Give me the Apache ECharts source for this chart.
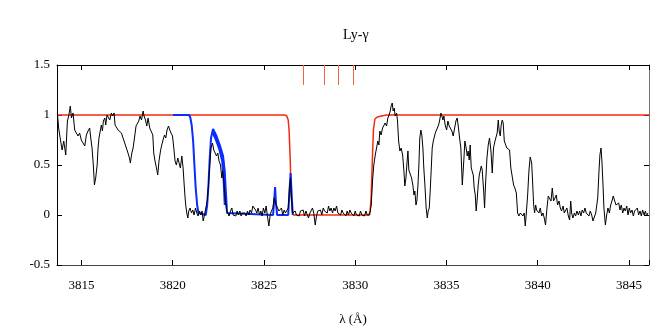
<!DOCTYPE html>
<html>
<head>
<meta charset="utf-8">
<script src="https://cdn.jsdelivr.net/npm/echarts@6/dist/echarts.min.js"></script>
<style>
html, body { margin: 0; padding: 0; background: #fff; }
#chart { width: 664px; height: 332px; }
</style>
</head>
<body>
<div id="chart"></div>
<script>
// wavelength range of the plot (Angstrom)
const lambdaMin = 3813.66;
const lambdaMax = 3846.1;

// observed spectrum, [wavelength, normalised flux]
const flux = [
  [3813.68,1.02],[3813.75,0.87],[3813.86,0.74],[3813.94,0.65],[3814.03,0.74],[3814.14,0.60],[3814.23,0.94],[3814.30,0.99],
  [3814.39,1.09],[3814.45,0.97],[3814.54,1.02],[3814.63,0.85],[3814.72,0.87],[3814.81,0.79],[3814.90,0.82],[3814.99,0.75],
  [3815.09,0.77],[3815.18,0.69],[3815.27,0.80],[3815.36,0.84],[3815.45,0.87],[3815.51,0.77],[3815.58,0.67],[3815.65,0.50],
  [3815.71,0.30],[3815.78,0.37],[3815.86,0.50],[3815.91,0.67],[3815.96,0.77],[3816.04,0.85],[3816.09,0.90],[3816.15,0.84],
  [3816.20,0.94],[3816.28,0.97],[3816.33,0.90],[3816.40,1.00],[3816.49,0.99],[3816.55,0.95],[3816.64,1.02],[3816.71,0.99],
  [3816.79,1.02],[3816.84,0.90],[3816.92,0.89],[3817.01,0.85],[3817.10,0.84],[3817.19,0.82],[3817.28,0.77],[3817.37,0.72],
  [3817.46,0.74],[3817.55,0.62],[3817.63,0.57],[3817.68,0.52],[3817.76,0.62],[3817.83,0.67],[3817.92,0.79],[3817.99,0.89],
  [3818.07,0.87],[3818.14,0.94],[3818.21,0.99],[3818.29,0.95],[3818.38,1.04],[3818.43,0.99],[3818.51,0.95],[3818.58,0.89],
  [3818.65,0.97],[3818.74,0.87],[3818.83,0.89],[3818.91,0.80],[3818.96,0.62],
  [3819.02,0.55],[3819.11,0.47],[3819.18,0.40],[3819.25,0.54],[3819.33,0.64],[3819.40,0.70],[3819.47,0.75],[3819.55,0.80],
  [3819.62,0.77],[3819.69,0.85],[3819.77,0.89],[3819.84,0.85],[3819.91,0.82],[3819.99,0.79],[3820.06,0.67],[3820.13,0.54],
  [3820.20,0.50],[3820.28,0.57],[3820.35,0.52],[3820.42,0.47],[3820.50,0.59],[3820.57,0.47],[3820.63,0.30],[3820.68,0.17],
  [3820.72,0.09],[3820.77,0.02],[3820.83,-0.03],[3820.88,0.04],[3820.95,0.07],[3821.03,0.02],[3821.10,0.05],[3821.17,0.00],
  [3821.25,0.07],[3821.32,0.02],[3821.39,-0.01],[3821.47,0.04],[3821.54,0.00],[3821.61,0.04],[3821.67,-0.06],[3821.74,0.00],
  [3821.81,0.02],[3821.89,0.14],[3821.96,0.30],[3822.03,0.50],[3822.10,0.67],[3822.18,0.72],[3822.25,0.65],[3822.32,0.64],
  [3822.40,0.59],[3822.47,0.62],[3822.54,0.54],[3822.62,0.50],[3822.69,0.37],[3822.74,0.44],[3822.80,0.34],[3822.87,0.17],
  [3822.95,0.05],[3823.02,0.04],[3823.09,-0.01],[3823.17,0.04],[3823.24,0.07],[3823.31,0.00],[3823.38,0.02],[3823.46,-0.01],
  [3823.53,0.04],[3823.60,0.00],[3823.68,0.04],[3823.75,-0.01],[3823.82,0.02],[3823.90,0.02],
  [3823.95,0.02],[3824.02,-0.01],[3824.10,0.04],[3824.17,0.00],[3824.24,0.05],[3824.32,0.02],[3824.39,0.09],[3824.46,0.10],
  [3824.54,0.05],[3824.61,0.02],[3824.68,0.07],[3824.76,0.00],[3824.83,0.04],[3824.90,-0.01],[3824.97,0.07],[3825.05,0.02],
  [3825.12,0.09],[3825.19,-0.01],[3825.27,-0.11],[3825.34,0.00],[3825.41,0.04],[3825.49,0.07],[3825.56,0.17],[3825.61,0.15],
  [3825.67,0.10],[3825.74,0.09],[3825.82,0.04],[3825.89,0.02],[3825.96,0.07],[3826.03,0.00],[3826.11,0.05],[3826.18,0.02],
  [3826.25,0.00],[3826.33,0.07],[3826.40,0.27],[3826.46,0.37],[3826.51,0.17],[3826.57,0.02],[3826.64,0.00],[3826.71,0.04],
  [3826.78,0.00],[3826.86,0.02],[3826.93,-0.01],[3827.00,0.04],[3827.08,0.02],[3827.15,0.05],[3827.22,-0.01],[3827.30,0.04],
  [3827.37,0.02],[3827.44,-0.03],[3827.52,0.02],[3827.59,0.00],[3827.66,0.07],[3827.73,0.02],[3827.81,-0.10],[3827.88,-0.01],
  [3827.95,0.04],[3828.03,0.02],[3828.10,0.05],[3828.17,0.00],[3828.25,0.07],[3828.32,0.04],[3828.39,0.05],[3828.47,0.02],
  [3828.54,0.09],[3828.61,0.04],[3828.68,0.07],[3828.76,0.02],[3828.83,0.07],[3828.90,0.04],[3828.98,0.09],[3829.05,0.02],
  [3829.12,0.04],[3829.20,0.00],[3829.27,0.05],[3829.34,0.02],[3829.42,0.04],[3829.49,-0.01],[3829.56,0.04],[3829.63,0.00],
  [3829.71,0.05],[3829.78,0.02],[3829.85,0.04],[3829.93,-0.01],[3830.00,0.04],[3830.07,0.00],[3830.15,0.02],[3830.22,-0.01],
  [3830.29,0.04],[3830.37,0.00],[3830.44,0.02],[3830.51,-0.01],[3830.59,0.04],[3830.66,0.00],[3830.73,0.02],
  [3830.79,0.00],[3830.88,0.10],[3830.95,0.34],[3831.02,0.50],[3831.10,0.60],[3831.17,0.67],[3831.24,0.74],[3831.30,0.70],
  [3831.35,0.84],[3831.42,0.80],[3831.50,0.87],[3831.57,0.85],[3831.64,0.92],[3831.72,0.89],[3831.79,0.97],[3831.86,1.00],
  [3831.92,1.04],[3831.97,1.09],[3832.03,1.12],[3832.08,1.04],[3832.14,1.07],[3832.19,0.99],[3832.27,1.02],[3832.32,0.94],
  [3832.38,0.74],[3832.45,0.64],[3832.52,0.67],[3832.60,0.60],[3832.67,0.44],[3832.72,0.29],[3832.78,0.37],[3832.83,0.50],
  [3832.89,0.64],[3832.94,0.45],[3833.01,0.47],[3833.09,0.37],[3833.16,0.30],[3833.22,0.20],[3833.27,0.24],[3833.33,0.10],
  [3833.38,0.14],[3833.44,0.30],[3833.49,0.50],[3833.54,0.77],[3833.60,0.85],[3833.65,0.80],[3833.71,0.67],[3833.76,0.47],
  [3833.82,0.30],[3833.89,0.07],[3833.95,-0.03],[3834.00,0.04],[3834.06,0.07],[3834.11,0.24],[3834.17,0.47],[3834.22,0.67],
  [3834.28,0.74],[3834.33,0.75],[3834.39,0.82],[3834.46,0.80],[3834.49,0.84],[3834.57,0.90],[3834.62,0.94],[3834.70,1.02],
  [3834.75,0.99],[3834.81,0.95],[3834.86,0.99],[3834.93,0.90],[3835.01,0.85],[3835.08,0.94],[3835.15,0.89],[3835.23,0.90],
  [3835.30,0.84],[3835.37,0.79],[3835.45,0.87],[3835.52,0.94],[3835.59,0.97],[3835.66,0.87],[3835.72,0.77],[3835.79,0.67],
  [3835.87,0.30],
  [3835.96,0.57],[3836.01,0.74],[3836.08,0.67],[3836.14,0.59],[3836.19,0.64],[3836.25,0.55],[3836.30,0.70],[3836.36,0.47],
  [3836.41,0.49],[3836.47,0.40],[3836.52,0.27],[3836.58,0.20],[3836.63,0.04],[3836.69,0.17],[3836.74,0.30],[3836.80,0.40],
  [3836.85,0.39],[3836.91,0.49],[3836.96,0.45],[3837.04,0.24],[3837.09,0.07],[3837.14,0.30],[3837.22,0.57],[3837.29,0.70],
  [3837.36,0.77],[3837.44,0.64],[3837.51,0.42],[3837.58,0.67],[3837.66,0.74],[3837.73,0.75],[3837.78,0.82],[3837.84,0.95],
  [3837.89,0.84],[3837.95,0.79],[3838.00,0.90],[3838.06,0.95],[3838.11,0.92],[3838.17,0.74],[3838.24,0.75],[3838.31,0.67],
  [3838.39,0.65],[3838.46,0.65],[3838.53,0.47],[3838.61,0.45],[3838.68,0.30],[3838.75,0.27],[3838.83,0.22],[3838.90,0.02],
  [3838.97,-0.01],[3839.05,0.02],[3839.12,0.04],[3839.19,-0.01],[3839.26,0.02],[3839.32,-0.11],[3839.37,0.00],[3839.45,0.20],
  [3839.52,0.44],[3839.59,0.58],[3839.67,0.52],[3839.72,0.34],[3839.78,0.10],[3839.83,0.02],[3839.89,0.10],[3839.94,0.05],
  [3839.99,0.07],[3840.07,0.02],[3840.14,0.07],[3840.22,-0.01],[3840.29,0.02],[3840.36,-0.03],[3840.43,-0.10],[3840.51,0.07],
  [3840.58,0.19],[3840.65,0.20],[3840.73,0.14],[3840.80,0.27],[3840.87,0.14],
  [3840.95,0.17],[3841.02,0.20],[3841.09,0.10],[3841.17,0.14],[3841.24,0.07],[3841.31,0.04],[3841.39,0.09],[3841.46,0.02],
  [3841.53,0.00],[3841.60,0.07],[3841.68,-0.01],[3841.75,-0.05],[3841.81,0.14],[3841.86,0.02],[3841.93,-0.03],[3842.01,0.02],
  [3842.08,-0.01],[3842.15,0.04],[3842.23,0.00],[3842.30,0.04],[3842.37,-0.01],[3842.44,0.05],[3842.52,0.02],[3842.59,0.07],
  [3842.66,0.02],[3842.74,0.04],[3842.81,-0.01],[3842.88,0.04],[3842.96,0.00],[3843.03,-0.06],[3843.10,-0.08],[3843.18,0.02],
  [3843.23,0.00],[3843.29,0.17],[3843.36,0.44],[3843.41,0.60],[3843.47,0.67],[3843.52,0.54],[3843.58,0.30],[3843.63,0.07],
  [3843.71,-0.10],[3843.78,0.00],[3843.85,0.07],[3843.93,0.02],[3844.00,0.10],[3844.07,0.14],[3844.14,0.19],[3844.22,0.17],
  [3844.29,0.10],[3844.36,0.09],[3844.44,0.12],[3844.51,0.05],[3844.58,0.10],[3844.66,0.02],[3844.73,0.07],[3844.80,0.04],
  [3844.88,0.09],[3844.95,0.00],[3845.02,0.07],[3845.09,0.02],[3845.17,0.05],[3845.24,-0.01],[3845.31,0.04],[3845.39,0.02],
  [3845.46,0.07],[3845.53,0.00],[3845.61,0.04],[3845.68,-0.01],[3845.75,0.05],[3845.83,0.00],[3845.90,0.04],[3845.97,-0.01],
  [3846.04,0.02]
];

// Ly-gamma model (red)
const redModel = [
  [3813.66,1],[3826.14,1],[3826.25,0.99],[3826.33,0.95],[3826.38,0.84],[3826.44,0.55],[3826.49,0.22],[3826.55,0.04],
  [3826.62,0],[3830.75,0],[3830.82,0.04],[3830.88,0.2],[3830.94,0.55],[3831.00,0.85],[3831.08,0.96],[3831.21,0.98],
  [3831.44,0.99],[3831.72,1],[3846.1,1]
];

// second model (blue)
const blueModel = [
  [3820.02,1],[3820.9,1],[3820.97,0.97],[3821.04,0.90],[3821.12,0.74],[3821.19,0.50],[3821.26,0.27],[3821.34,0.10],
  [3821.41,0.02],[3821.48,0],[3821.81,0],[3821.89,0.10],[3821.96,0.30],[3822.03,0.57],[3822.10,0.77],[3822.21,0.86],
  [3822.40,0.79],[3822.58,0.70],[3822.76,0.59],[3822.85,0.44],[3822.91,0.24],[3822.98,0.02],[3823.05,0],[3825.50,0],
  [3825.56,0.14],[3825.61,0.28],[3825.66,0.12],[3825.72,0],[3826.33,0],[3826.40,0.24],[3826.46,0.42],[3826.52,0.2],
  [3826.58,0]
];
const blueModelLow = [
  [3822.20,0.83],[3822.40,0.75],[3822.58,0.66],[3822.74,0.54],[3822.82,0.34],[3822.88,0.10]
];

// absorption line positions marked at the top
const lineCentres = [3827.15, 3828.28, 3829.07, 3829.89];
const markBottom = 1.3;
const markTop = 1.5;

const font = 'Liberation Serif';
const redColor = '#f42a10';
const blueColor = '#0a2cff';

let myChart = echarts.init(document.getElementById('chart'));

const tickStyle = { inside: true, length: 5, lineStyle: { color: '#000' } };

const option = {
  animation: false,
  title: {
    text: 'Ly-γ',
    left: 338,
    top: 23,
    textStyle: { fontFamily: font, fontSize: 14, fontWeight: 'normal', color: '#000' }
  },
  grid: { left: 57, top: 65, width: 592, height: 200 },
  xAxis: [
    {
      type: 'value',
      min: lambdaMin,
      max: lambdaMax,
      splitNumber: 6,
      name: 'λ (Å)',
      nameLocation: 'middle',
      nameGap: 48,
      nameTextStyle: { fontFamily: font, fontSize: 13, color: '#000' },
      axisLine: { onZero: false, lineStyle: { color: '#444' } },
      axisTick: tickStyle,
      splitLine: { show: false },
      axisLabel: {
        fontFamily: font, fontSize: 13, color: '#000', margin: 14,
        formatter: v => (Math.abs(v % 5) < 1e-6 ? String(v) : '')
      }
    },
    {
      type: 'value',
      position: 'top',
      min: lambdaMin,
      max: lambdaMax,
      splitNumber: 6,
      axisLine: { onZero: false, lineStyle: { color: '#000' } },
      axisTick: tickStyle,
      splitLine: { show: false },
      axisLabel: { show: false }
    }
  ],
  yAxis: [
    {
      type: 'value',
      min: -0.5,
      max: 1.5,
      interval: 0.5,
      axisLine: { show: true, onZero: false, lineStyle: { color: '#000' } },
      axisTick: tickStyle,
      splitLine: { show: false },
      axisLabel: { fontFamily: font, fontSize: 13, color: '#000', margin: 7 }
    },
    {
      type: 'value',
      position: 'right',
      min: -0.5,
      max: 1.5,
      interval: 0.5,
      axisLine: { show: true, onZero: false, lineStyle: { color: '#777' } },
      axisTick: tickStyle,
      splitLine: { show: false },
      axisLabel: { show: false }
    }
  ],
  series: [
    {
      name: 'red',
      type: 'line',
      data: redModel,
      showSymbol: false,
      lineStyle: { color: redColor, width: 1.5 },
      markLine: {
        silent: true,
        symbol: 'none',
        label: { show: false },
        lineStyle: { color: '#f86048', width: 1, type: 'solid' },
        data: lineCentres.map(x => [{ coord: [x, markBottom] }, { coord: [x, markTop] }])
      }
    },
    {
      name: 'blue',
      type: 'line',
      data: blueModel,
      showSymbol: false,
      lineStyle: { color: blueColor, width: 2 }
    },
    {
      name: 'blueLow',
      type: 'line',
      data: blueModelLow,
      showSymbol: false,
      lineStyle: { color: blueColor, width: 3 }
    },
    {
      name: 'spectrum',
      type: 'line',
      data: flux,
      showSymbol: false,
      lineStyle: { color: '#000', width: 1 }
    }
  ]
};

myChart.setOption(option);
</script>
</body>
</html>
